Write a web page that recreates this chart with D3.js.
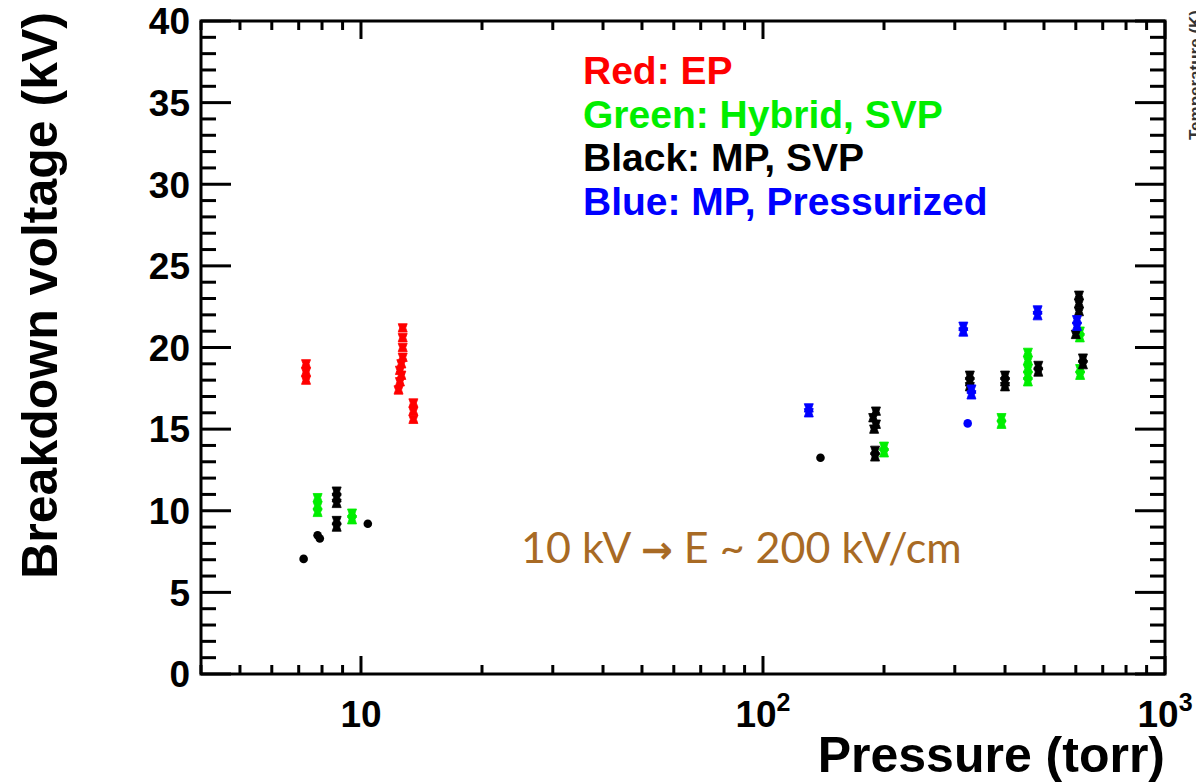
<!DOCTYPE html>
<html>
<head>
<meta charset="utf-8">
<script src="https://cdn.jsdelivr.net/npm/d3@7"></script>
<style>
  html, body { margin: 0; padding: 0; background: #fff; }
  svg { display: block; }
</style>
</head>
<body>
<svg id="chart" width="1196" height="783"></svg>
<script>
// ---------------- data ----------------
// [pressure (torr), breakdown voltage (kV)]
const redEP = [
  [7.3,19.0],[7.3,18.5],[7.3,18.0],
  [12.7,21.2],[12.7,20.6],[12.7,20.0],[12.7,19.4],[12.6,19.0],[12.5,18.6],[12.6,18.3],[12.5,17.9],[12.4,17.4],
  [13.5,16.6],[13.5,16.1],[13.5,15.6]
];
const greenHybridSVP = [
  [7.8,10.8],[7.8,10.3],[7.8,9.9],
  [9.5,9.85],[9.5,9.45],
  [200,13.95],[200,13.55],
  [392,15.7],[392,15.3],
  [456,19.7],[456,19.2],[456,18.7],[456,18.3],[456,17.9],
  [614,21.0],[614,20.6],
  [615,18.7],[615,18.3]
];
const blackMPSVP = [
  [8.7,11.2],[8.7,10.8],[8.7,10.45],
  [8.7,9.4],[8.7,9.0],
  [191,16.1],[188,15.7],[191,15.3],[189,15.0],
  [190,13.7],[190,13.3],
  [327,18.3],[327,17.9],[327,17.6],
  [400,18.3],[400,17.9],[400,17.6],
  [484,18.9],[484,18.5],
  [611,23.2],[611,22.7],[611,22.2],
  [600,20.8],
  [625,19.35],[625,18.95]
];
const blackMPSVPDots = [[7.2,7.05],[7.8,8.5],[7.9,8.3],[10.4,9.2],[139,13.25]];
const blueMPPressurized = [
  [130,16.3],[130,16.0],
  [315,21.3],[315,20.95],
  [330,17.45],[330,17.1],
  [482,22.3],[482,21.95],
  [604,21.7],[604,21.3]
];
const blueMPPressurizedDots = [[323,15.35]];

const yTicks = [0,5,10,15,20,25,30,35,40];
const xMajorTicks = [10,100,1000];
const xTickLabels = [["10",""],["10","2"],["10","3"]];
const legendLabels = ["Red: EP","Green: Hybrid, SVP","Black: MP, SVP","Blue: MP, Pressurized"];
const legendColors = ["#ff0000","#00ee00","#000000","#0000ff"];

// ---------------- layout ----------------
const svg = d3.select("#chart");
const L = 201, R = 1165, T = 21, B = 674;
const x = d3.scaleLog().domain([4,1000]).range([L,R]);
const y = d3.scaleLinear().domain([0,40]).range([B,T]);
const FONT = "'Liberation Sans', Arial, Helvetica, sans-serif";

// frame
svg.append("rect").attr("x",L).attr("y",T).attr("width",R-L).attr("height",B-T)
  .attr("fill","none").attr("stroke","#000").attr("stroke-width",3);

// y ticks (left & right, inward)
const yMinor = d3.range(0,41,1);
const gT = svg.append("g").attr("stroke","#000").attr("stroke-width",3);
yMinor.forEach(v => {
  const len = v % 5 === 0 ? 30 : 15;
  gT.append("line").attr("x1",L).attr("x2",L+len).attr("y1",y(v)).attr("y2",y(v));
  gT.append("line").attr("x1",R).attr("x2",R-len).attr("y1",y(v)).attr("y2",y(v));
});
// x ticks (bottom & top, inward)
const xAll = [];
[1,10,100].forEach(d => { for (let k=1;k<10;k++){ const v=k*d; if (v>=4 && v<=1000) xAll.push(v);} });
xAll.push(1000);
xAll.forEach(v => {
  const major = xMajorTicks.includes(v);
  const len = major ? 18 : 9;
  gT.append("line").attr("x1",x(v)).attr("x2",x(v)).attr("y1",B).attr("y2",B-len);
  gT.append("line").attr("x1",x(v)).attr("x2",x(v)).attr("y1",T).attr("y2",T+len);
});

// y tick labels
svg.append("g").selectAll("text").data(yTicks).join("text")
  .attr("x",L-11).attr("y",d=>y(d)).attr("dy","0.36em")
  .attr("text-anchor","end").attr("font-family",FONT).attr("font-weight","bold")
  .attr("font-size",37).text(d=>d);

// x tick labels
xMajorTicks.forEach((v,i) => {
  const t = svg.append("text").attr("x",x(v)).attr("y",727).attr("text-anchor","middle")
    .attr("font-family",FONT).attr("font-weight","bold").attr("font-size",37);
  t.append("tspan").text(xTickLabels[i][0]);
  if (xTickLabels[i][1]) t.append("tspan").attr("dy",-16).attr("font-size",25).text(xTickLabels[i][1]);
});

// axis titles
svg.append("text").attr("transform",`translate(57,12) rotate(-90)`)
  .attr("text-anchor","end").attr("font-family",FONT).attr("font-weight","bold")
  .attr("font-size",50).text("Breakdown voltage (kV)");
svg.append("text").attr("x",R).attr("y",772).attr("text-anchor","end")
  .attr("font-family",FONT).attr("font-weight","bold").attr("font-size",50).text("Pressure (torr)");

// clipped right axis title
svg.append("text").attr("transform","translate(1201,10) rotate(-90)")
  .attr("text-anchor","end").attr("font-family",FONT).attr("font-weight","bold")
  .attr("font-size",17).attr("fill","#333").text("Temperature (K)");

// legend
svg.append("g").selectAll("text").data(legendLabels).join("text")
  .attr("x",583).attr("y",(d,i)=>84+i*43.5)
  .attr("font-family",FONT).attr("font-weight","bold").attr("font-size",39)
  .attr("fill",(d,i)=>legendColors[i]).text(d=>d);

// annotation
const ann = svg.append("text").attr("x",521).attr("y",563)
  .attr("font-family","Lato, 'Open Sans', sans-serif").attr("font-size",43)
  .attr("fill","#a86a24");
ann.append("tspan").text("10 kV ");
ann.append("tspan").attr("font-weight","bold").attr("font-family","'DejaVu Sans', sans-serif").attr("font-size",38).text("\u2192");
ann.append("tspan").text(" E ~ 200 kV/cm");

// markers
const bowtie = "M-4.5,-4.2L4.5,-4.2L3,0L4.5,4.2L-4.5,4.2L-3,0Z";
function drawBars(data, color){
  svg.append("g").selectAll("path").data(data).join("path")
    .attr("d",bowtie).attr("fill",color).attr("stroke",color).attr("stroke-width",0.8)
    .attr("stroke-linejoin","round")
    .attr("transform",d=>`translate(${x(d[0])},${y(d[1])})`);
}
function drawDots(data, color){
  svg.append("g").selectAll("circle").data(data).join("circle")
    .attr("cx",d=>x(d[0])).attr("cy",d=>y(d[1])).attr("r",4.3).attr("fill",color);
}
drawBars(redEP,"#ff0000");
drawBars(greenHybridSVP,"#00ee00");
drawBars(blackMPSVP,"#000000");
drawDots(blackMPSVPDots,"#000000");
drawBars(blueMPPressurized,"#0000ff");
drawDots(blueMPPressurizedDots,"#0000ff");
</script>
</body>
</html>
